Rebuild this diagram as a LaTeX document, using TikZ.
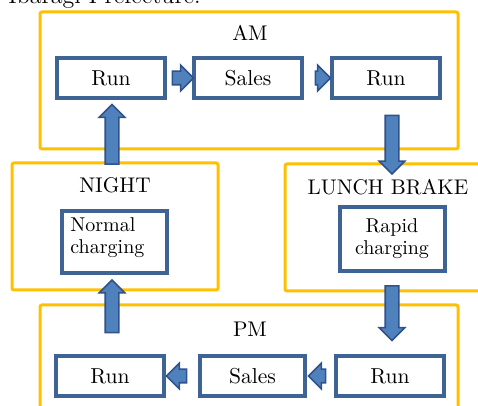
\documentclass[tikz,border=0pt]{standalone}
\usetikzlibrary{calc,shapes.arrows}

\definecolor{phaseyellow}{RGB}{255,192,0}
\definecolor{taskblue}{RGB}{62,100,150}
\definecolor{arrowdark}{RGB}{47,82,140}
\definecolor{arrowfill}{RGB}{79,129,189}

\tikzset{
    phase/.style={draw=phaseyellow, line width=1.5pt, rounded corners=1pt, rectangle, inner sep=0pt},
    phasetitle/.style={font=\fontsize{10.6}{12.6}\selectfont, inner sep=0pt},
    task/.style={draw=taskblue, line width=2pt, fill=white, rectangle, inner sep=0pt,
        minimum width=54pt, minimum height=20pt, font=\fontsize{10.8}{13}\selectfont},
    charge/.style={task, minimum width=52.5pt, minimum height=31pt,
        font=\fontsize{10}{11}\selectfont},
    blockarr/.style={single arrow, draw=arrowdark, fill=arrowfill, line width=0.8pt,
        inner xsep=0pt, inner ysep=3pt, single arrow head extend=3pt},
}

% #1 name, #2 tail, #3 tip
\newcommand{\blockarrow}[3]{
    \path let \p1=#2, \p2=#3, \n1={atan2(\y2-\y1,\x2-\x1)}, \n2={veclen(\x2-\x1,\y2-\y1)} in
        node[blockarr, minimum height=\n2, rotate=\n1] (#1) at ($(\p1)!0.5!(\p2)$) {};
}

\begin{document}
\begin{tikzpicture}[x=0.5pt, y=-0.5pt]
    \useasboundingbox (0,0) rectangle (478,406);
    \clip (0,0) rectangle (478,406);

    \node[anchor=base west, inner sep=0pt, font=\large] (caption) at (8,4) {Ibaragi Prefecture.};

    % phases
    \node[phase, minimum width=209pt, minimum height=68.5pt] (am) at (249,80.5) {};
    \node[phase, minimum width=103pt, minimum height=63.5pt] (night) at (115,226.5) {};
    \node[phase, minimum width=110pt, minimum height=63.5pt] (lunch) at (395,227.5) {};
    \node[phase, minimum width=209pt, minimum height=70pt] (pm) at (249,375) {};

    \node[phasetitle] (amtitle) at (250,33) {AM};
    \node[phasetitle] (nighttitle) at (115,185) {NIGHT};
    \node[phasetitle] (lunchtitle) at (388,187) {LUNCH BRAKE};
    \node[phasetitle] (pmtitle) at (250,329) {PM};

    % tasks
    \node[task] (runa) at (111,78) {Run};
    \node[task] (salesa) at (248,78) {Sales};
    \node[task] (runb) at (386,78) {Run};

    \node[task] (rund) at (110,376) {Run};
    \node[task, minimum width=52.5pt] (salesb) at (252.5,376) {Sales};
    \node[task] (runc) at (390,376) {Run};

    \node[charge] (normal) at (114.5,242.5) {};
    \node[anchor=north west, inner sep=0pt, align=left, font=\fontsize{10}{11}\selectfont]
        (normaltext) at ($(normal.north west)+(5pt,-4pt)$) {Normal\\charging};
    \node[charge, minimum height=32pt, align=center] (rapid) at (392,239) {Rapid\\charging};

    % flow
    \blockarrow{ama}{($(runa.east)+(1pt,0)$)}{($(salesa.west)+(-1pt,0)$)}
    \blockarrow{amb}{($(salesa.east)+(4pt,0)$)}{($(runb.west)+(-1.5pt,0)$)}
    \blockarrow{tolunch}{($(runb.south -| rapid.north)+(0,-6pt)$)}{($(lunch.north -| rapid.north)+(0,-4pt)$)}
    \blockarrow{topm}{($(lunch.south -| rapid.north)+(0,5pt)$)}{($(runc.north -| rapid.north)+(0,8.5pt)$)}
    \blockarrow{pma}{($(runc.west)+(-2.5pt,0)$)}{($(salesb.east)+(2.5pt,0)$)}
    \blockarrow{pmb}{($(salesb.west)+(-4pt,0)$)}{($(rund.east)+(2pt,0)$)}
    \blockarrow{tonight}{($(rund.north)+(1pt,9pt)$)}{($(night.south -| rund.north)+(1pt,4pt)$)}
    \blockarrow{toam}{($(night.north -| runa.south)+(0.5pt,-3pt)$)}{($(runa.south)+(0.5pt,-4pt)$)}
\end{tikzpicture}
\end{document}
